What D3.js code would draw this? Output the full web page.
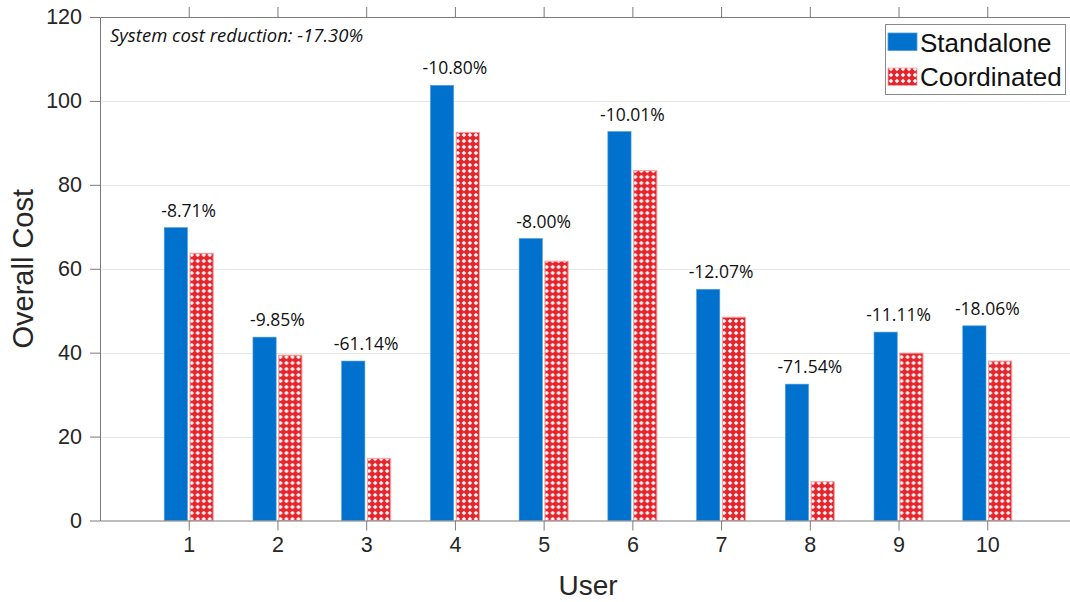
<!DOCTYPE html>
<html>
<head>
<meta charset="utf-8">
<script src="https://cdn.jsdelivr.net/npm/d3@7"></script>
<style>
  body { margin: 0; background: #fff; }
  svg { display: block; }
  .tick text { fill: #262626; }
</style>
</head>
<body>
<div id="chart"></div>
<script>
// values
var users = [1, 2, 3, 4, 5, 6, 7, 8, 9, 10];
var standalone = [69.8, 43.7, 38.0, 103.7, 67.2, 92.7, 55.1, 32.5, 44.9, 46.4];
var coordinated = [63.7, 39.4, 14.8, 92.5, 61.8, 83.4, 48.45, 9.25, 39.9, 38.0];
var reductionLabels = ["-8.71%", "-9.85%", "-61.14%", "-10.80%", "-8.00%",
                       "-10.01%", "-12.07%", "-71.54%", "-11.11%", "-18.06%"];
var seriesNames = ["Standalone", "Coordinated"];
var yTicks = [0, 20, 40, 60, 80, 100, 120];
var systemNote = "System cost reduction: -17.30%";

var width = 1070, height = 602;
var margin = {left: 100, top: 17, right: -6, bottom: 82};

var svg = d3.select("#chart").append("svg")
  .attr("width", width)
  .attr("height", height);

var defs = svg.append("defs");
var pat = defs.append("pattern")
  .attr("id", "dots")
  .attr("patternUnits", "userSpaceOnUse")
  .attr("width", 6)
  .attr("height", 6);
pat.append("rect").attr("width", 6).attr("height", 6).attr("fill", "#e8242b");
pat.append("path")
  .attr("d", "M3,0.8 L5.2,3 L3,5.2 L0.8,3 Z")
  .attr("fill", "#fff");

var x = d3.scaleLinear()
  .domain([0, 11])
  .range([margin.left, width - margin.right]);

var y = d3.scaleLinear()
  .domain([0, 120])
  .range([height - margin.bottom + 0.5, margin.top]);

var inner = d3.scaleBand()
  .domain(seriesNames)
  .range([-24.5, 24.5])
  .paddingInner(0.1);

// grid
svg.append("g")
  .selectAll("line")
  .data(yTicks.slice(1, -1))
  .enter()
  .append("line")
  .attr("x1", x(0))
  .attr("x2", x(11))
  .attr("y1", function(d) { return Math.round(y(d)) + 0.5; })
  .attr("y2", function(d) { return Math.round(y(d)) + 0.5; })
  .attr("stroke", "#e6e6e6")
  .attr("stroke-width", 1);

// bars
var groups = svg.append("g")
  .selectAll("g")
  .data(users)
  .enter()
  .append("g")
  .attr("transform", function(d) { return "translate(" + x(d) + ",0)"; });

groups.append("rect")
  .attr("x", inner("Standalone"))
  .attr("width", inner.bandwidth())
  .attr("y", function(d, i) { return y(standalone[i]); })
  .attr("height", function(d, i) { return y(0) - y(standalone[i]); })
  .attr("fill", "#0072ce")
  .attr("stroke", "#4a9be0")
  .attr("stroke-width", 0.6);

groups.append("rect")
  .attr("x", inner("Coordinated"))
  .attr("width", inner.bandwidth())
  .attr("y", function(d, i) { return y(coordinated[i]); })
  .attr("height", function(d, i) { return y(0) - y(coordinated[i]); })
  .attr("fill", "url(#dots)")
  .attr("stroke", "#f2a3a6")
  .attr("stroke-width", 1);

groups.append("text")
  .attr("x", 0)
  .attr("y", function(d, i) { return y(standalone[i]) - 11; })
  .attr("text-anchor", "middle")
  .attr("font-family", "Open Sans, sans-serif")
  .attr("font-size", "17.5px")
  .attr("fill", "#111")
  .text(function(d, i) { return reductionLabels[i]; });

// axes
var axisColor = "#7a7a7a";
var fontAxis = "Liberation Sans, Arial, sans-serif";

var xAxis = svg.append("g")
  .attr("transform", "translate(0," + y(0) + ")")
  .call(d3.axisBottom(x).tickValues(users).tickSize(10).tickPadding(6).tickSizeOuter(0));

var xTop = svg.append("g")
  .attr("transform", "translate(0," + y(120) + ")")
  .call(d3.axisTop(x).tickValues(users).tickSize(10).tickFormat("").tickSizeOuter(0));

var yAxis = svg.append("g")
  .attr("transform", "translate(" + x(0) + ",0)")
  .call(d3.axisLeft(y).tickValues(yTicks).tickSize(10).tickPadding(8).tickSizeOuter(0));

[xAxis, xTop, yAxis].forEach(function(a) {
  a.select(".domain").attr("stroke", axisColor);
  a.selectAll(".tick line").attr("stroke", axisColor);
  a.selectAll(".tick text")
    .attr("font-family", fontAxis)
    .attr("font-size", "21.5px");
});

// axis titles
svg.append("text")
  .attr("x", (x(0) + x(11)) / 2)
  .attr("y", 595)
  .attr("text-anchor", "middle")
  .attr("font-family", fontAxis)
  .attr("font-size", "28px")
  .attr("fill", "#262626")
  .text("User");

svg.append("text")
  .attr("transform", "translate(33," + (y(60)) + ") rotate(-90)")
  .attr("text-anchor", "middle")
  .attr("font-family", fontAxis)
  .attr("font-size", "29px")
  .attr("fill", "#262626")
  .text("Overall Cost");

// note
svg.append("text")
  .attr("x", 110)
  .attr("y", 42)
  .attr("font-family", "Open Sans, sans-serif")
  .attr("font-style", "italic")
  .attr("font-size", "18.5px")
  .attr("fill", "#111")
  .text(systemNote);

// legend
var legend = svg.append("g");
legend.append("rect")
  .attr("x", 885.5)
  .attr("y", 24.5)
  .attr("width", 180)
  .attr("height", 70)
  .attr("fill", "#fff")
  .attr("stroke", "#8a8a8a")
  .attr("stroke-width", 1);

var legendFill = ["#0072ce", "url(#dots)"];
var legendStroke = ["#4a9be0", "#f2a3a6"];
seriesNames.forEach(function(name, i) {
  legend.append("rect")
    .attr("x", 888)
    .attr("y", 33 + i * 35)
    .attr("width", 29)
    .attr("height", 17.5)
    .attr("fill", legendFill[i])
    .attr("stroke", legendStroke[i])
    .attr("stroke-width", 0.8);
  legend.append("text")
    .attr("x", 920)
    .attr("y", 52 + i * 33.5)
    .attr("font-family", fontAxis)
    .attr("font-size", "26px")
    .attr("fill", "#111")
    .text(name);
});
</script>
</body>
</html>
